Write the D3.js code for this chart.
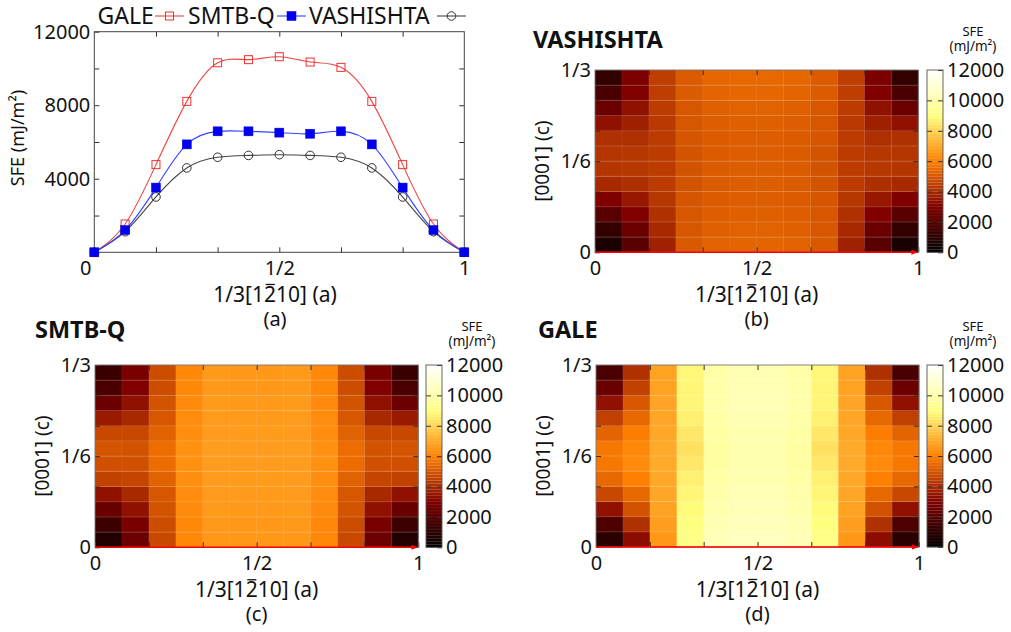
<!DOCTYPE html>
<html>
<head>
<meta charset="utf-8">
<script src="https://cdn.jsdelivr.net/npm/d3@7"></script>
<style>
  html, body { margin: 0; padding: 0; background: #fff; }
  svg text { font-family: "Noto Sans", "Open Sans", sans-serif; fill: #111; }
</style>
</head>
<body>
<svg id="chart" width="1011" height="632"></svg>
<script>
// ---------- DATA ----------
const stepsA = [0, 1, 2, 3, 4, 5, 6, 7, 8, 9, 10, 11, 12];          // position along 1/3[1-210], in 1/12 steps
const potentials = ["GALE", "SMTB-Q", "VASHISHTA"];
const galeSFE = [0, 1540, 4770, 8210, 10310, 10480, 10640, 10350, 10060, 8210, 4770, 1540, 0];
const smtbqSFE = [0, 1210, 3520, 5870, 6580, 6580, 6510, 6450, 6580, 5870, 3520, 1210, 0];
const vashSFE = [0, 1120, 3010, 4590, 5170, 5270, 5310, 5270, 5170, 4590, 3010, 1120, 0];

const sfeTicks = [0, 2000, 4000, 6000, 8000, 10000, 12000];
const sfeLabels = ["", "", "4000", "", "8000", "", "12000"];
const cbLabels = ["0", "2000", "4000", "6000", "8000", "10000", "12000"];
const aTickLabels = { 0: "0", 6: "1/2", 12: "1" };
const cTickLabels = { 0: "0", 6: "1/6", 12: "1/3" };

// 2D SFE maps: rows from c = 0 (bottom) to c = 1/3 (top), 12 columns along a
const vashMap = [
  [610, 2100, 3770, 5100, 5300, 5350, 5350, 5300, 5100, 3770, 2100, 610],
  [1200, 2500, 3950, 5050, 5250, 5300, 5300, 5250, 5050, 3950, 2500, 1200],
  [2100, 3000, 4150, 5050, 5200, 5250, 5250, 5200, 5050, 4150, 3000, 2100],
  [3000, 3550, 4300, 5000, 5150, 5200, 5200, 5150, 5000, 4300, 3550, 3000],
  [3950, 4100, 4400, 4950, 5150, 5200, 5200, 5150, 4950, 4400, 4100, 3950],
  [4250, 4300, 4400, 4950, 5150, 5200, 5200, 5150, 4950, 4400, 4300, 4250],
  [4250, 4300, 4400, 4950, 5150, 5200, 5200, 5150, 4950, 4400, 4300, 4250],
  [4150, 4100, 4400, 5000, 5150, 5200, 5200, 5150, 5000, 4400, 4100, 4150],
  [3400, 3750, 4350, 5050, 5200, 5250, 5250, 5200, 5050, 4350, 3750, 3400],
  [2500, 3400, 4400, 5050, 5250, 5300, 5300, 5250, 5050, 4400, 3400, 2500],
  [1740, 3000, 4450, 5150, 5350, 5400, 5400, 5350, 5150, 4450, 3000, 1740],
  [1200, 2950, 4450, 5150, 5400, 5450, 5450, 5400, 5150, 4450, 2950, 1200]
];
const smtbqMap = [
  [750, 2500, 4700, 6200, 6580, 6550, 6550, 6580, 6200, 4700, 2500, 750],
  [1410, 2870, 4800, 6200, 6600, 6570, 6570, 6600, 6200, 4800, 2870, 1410],
  [2450, 3400, 4950, 6250, 6620, 6600, 6600, 6620, 6250, 4950, 3400, 2450],
  [3390, 3950, 5050, 6300, 6650, 6630, 6630, 6650, 6300, 5050, 3950, 3390],
  [4520, 4600, 5300, 6350, 6680, 6660, 6660, 6680, 6350, 5300, 4600, 4520],
  [4890, 4890, 5550, 6400, 6700, 6680, 6680, 6700, 6400, 5550, 4890, 4890],
  [4990, 4940, 5550, 6400, 6700, 6680, 6680, 6700, 6400, 5550, 4940, 4990],
  [4700, 4700, 5300, 6350, 6680, 6660, 6660, 6680, 6350, 5300, 4700, 4700],
  [3620, 3950, 5050, 6300, 6650, 6630, 6630, 6650, 6300, 5050, 3950, 3620],
  [2540, 3400, 4950, 6250, 6620, 6600, 6600, 6620, 6250, 4950, 3400, 2540],
  [1740, 3000, 4800, 6200, 6600, 6570, 6570, 6600, 6200, 4800, 3000, 1740],
  [1370, 2870, 4800, 6200, 6600, 6570, 6570, 6600, 6200, 4800, 2870, 1370]
];
const galeMap = [
  [990, 3300, 6550, 9200, 10330, 10500, 10500, 10330, 9200, 6550, 3300, 990],
  [1840, 4150, 6700, 9000, 10200, 10400, 10400, 10200, 9000, 6700, 4150, 1840],
  [3400, 4900, 6800, 8900, 10100, 10300, 10300, 10100, 8900, 6800, 4900, 3400],
  [4700, 5450, 6900, 8800, 10000, 10250, 10250, 10000, 8800, 6900, 5450, 4700],
  [5450, 6000, 6950, 8650, 9900, 10150, 10150, 9900, 8650, 6950, 6000, 5450],
  [5820, 6250, 7000, 8460, 9800, 10100, 10100, 9800, 8460, 7000, 6250, 5820],
  [5820, 6200, 7000, 8300, 9800, 10100, 10100, 9800, 8300, 7000, 6200, 5820],
  [5350, 5940, 6950, 8460, 9850, 10150, 10150, 9850, 8460, 6950, 5940, 5350],
  [4500, 5450, 6900, 8650, 9950, 10200, 10200, 9950, 8650, 6900, 5450, 4500],
  [3400, 5080, 6850, 8800, 10000, 10250, 10250, 10000, 8800, 6850, 5080, 3400],
  [2500, 4520, 6800, 8800, 10000, 10250, 10250, 10000, 8800, 6800, 4520, 2500],
  [1740, 4150, 6780, 8820, 9950, 10200, 10200, 9950, 8820, 6780, 4150, 1740]
];

// ---------- HELPERS ----------
const svg = d3.select("#chart");
const SFE_MAX = 12000;
function afmhot(v) {
  const x = Math.max(0, Math.min(1, v / SFE_MAX));
  const c = t => Math.round(255 * Math.max(0, Math.min(1, t)));
  return `rgb(${c(2 * x)},${c(2 * x - 0.5)},${c(2 * x - 1)})`;
}
function styleAxis(g, size) {
  g.select(".domain").remove();
  g.selectAll(".tick line").attr("stroke", "#333").attr("stroke-width", 1);
  g.selectAll(".tick text").style("font-size", size + "px").attr("fill", "#111");
}
// "1/3[1 2̄ 1 0] (a)" with a bar drawn over the "2"
function aTitle(g, cx, by, size) {
  const t = g.append("text").attr("x", cx).attr("y", by).attr("text-anchor", "middle")
    .style("font-size", size + "px").text("1/3[1210] (a)");
  const node = t.node();
  const ext = node.getExtentOfChar(5);
  const capTop = by - size * 0.73;
  g.append("line").attr("x1", ext.x + size * 0.08).attr("x2", ext.x + ext.width - size * 0.06)
    .attr("y1", capTop - 2.2).attr("y2", capTop - 2.2)
    .attr("stroke", "#111").attr("stroke-width", 1.3);
}

// ---------- LINE CHART (a) ----------
(function lineChart() {
  const L = 94.3, R = 464.3, T = 31.7, B = 252.3;
  const x = d3.scaleLinear().domain([0, 12]).range([L, R]);
  const y = d3.scaleLinear().domain([0, SFE_MAX]).range([B, T]);
  const g = svg.append("g");

  const xb = g.append("g").attr("transform", `translate(0,${B})`)
    .call(d3.axisBottom(x).tickValues([0, 2, 4, 6, 8, 10, 12]).tickSize(-5).tickPadding(9)
      .tickFormat(d => aTickLabels[d] || ""));
  styleAxis(xb, 20);
  xb.selectAll(".tick text").filter(d => d === 0).attr("x", -9);
  const xt = g.append("g").attr("transform", `translate(0,${T})`)
    .call(d3.axisTop(x).tickValues([2, 4, 6, 8, 10]).tickSize(-5).tickFormat(""));
  styleAxis(xt, 20);
  const yl = g.append("g").attr("transform", `translate(${L},0)`)
    .call(d3.axisLeft(y).tickValues(sfeTicks).tickSize(-5).tickPadding(4)
      .tickFormat((d, i) => sfeLabels[i]));
  styleAxis(yl, 20);
  const yr = g.append("g").attr("transform", `translate(${R},0)`)
    .call(d3.axisRight(y).tickValues(sfeTicks.slice(1, 6)).tickSize(-5).tickFormat(""));
  styleAxis(yr, 20);
  g.append("rect").attr("x", L).attr("y", T).attr("width", R - L).attr("height", B - T)
    .attr("fill", "none").attr("stroke", "#444").attr("stroke-width", 1);

  const line = d3.line().x((d, i) => x(stepsA[i])).y(d => y(d)).curve(d3.curveNatural);
  const series = [
    { name: potentials[0], vals: galeSFE, color: "#ee4444", mark: "osq" },
    { name: potentials[2], vals: vashSFE, color: "#444444", mark: "oc" },
    { name: potentials[1], vals: smtbqSFE, color: "#3344ff", mark: "fsq" }
  ];
  series.forEach(s => {
    g.append("path").attr("d", line(s.vals)).attr("fill", "none")
      .attr("stroke", s.color).attr("stroke-width", 1.1);
    const m = g.append("g");
    s.vals.forEach((v, i) => drawMark(m, s.mark, x(stepsA[i]), y(v)));
  });

  function drawMark(sel, kind, cx, cy) {
    if (kind === "osq") sel.append("rect").attr("x", cx - 4).attr("y", cy - 4).attr("width", 8).attr("height", 8)
      .attr("fill", "none").attr("stroke", "#e33").attr("stroke-width", 1);
    else if (kind === "fsq") sel.append("rect").attr("x", cx - 4.5).attr("y", cy - 4.5).attr("width", 9).attr("height", 9)
      .attr("fill", "#0000ee").attr("stroke", "#0000dd").attr("stroke-width", 0.5);
    else sel.append("circle").attr("cx", cx).attr("cy", cy).attr("r", 4.3)
      .attr("fill", "none").attr("stroke", "#333").attr("stroke-width", 1);
  }

  const leg = [
    { name: potentials[0], tx: 97.5, x1: 155, x2: 184, color: "#ee4444", mark: "osq" },
    { name: potentials[1], tx: 188, x1: 277, x2: 306, color: "#3344ff", mark: "fsq" },
    { name: potentials[2], tx: 309, x1: 437, x2: 466, color: "#444444", mark: "oc" }
  ];
  leg.forEach(l => {
    g.append("text").attr("x", l.tx).attr("y", 24).style("font-size", "23px").text(l.name);
    g.append("line").attr("x1", l.x1).attr("x2", l.x2).attr("y1", 16).attr("y2", 16)
      .attr("stroke", l.color).attr("stroke-width", 1.1);
    drawMark(g, l.mark, (l.x1 + l.x2) / 2, 16);
  });

  g.append("text").attr("transform", "translate(24,138) rotate(-90)").attr("text-anchor", "middle")
    .style("font-size", "18px").text("SFE (mJ/m²)");
  aTitle(g, 275, 302, 21);
  g.append("text").attr("x", 275).attr("y", 326).attr("text-anchor", "middle")
    .style("font-size", "20px").text("(a)");
})();

// ---------- HEATMAP PANELS ----------
function heatPanel(p) {
  const g = svg.append("g");
  const x = d3.scaleLinear().domain([0, 12]).range([p.x0, p.x0 + p.w]);
  const y = d3.scaleLinear().domain([0, 12]).range([p.y0 + p.h, p.y0]);
  const cells = [];
  p.data.forEach((row, r) => row.forEach((v, c) => cells.push({ r, c, v })));
  g.selectAll("rect.cell").data(cells).join("rect").attr("class", "cell")
    .attr("x", d => x(d.c)).attr("y", d => y(d.r + 1))
    .attr("width", x(1) - x(0) + 0.3).attr("height", y(0) - y(1) + 0.3)
    .attr("fill", d => afmhot(d.v));
  g.selectAll("line.hgrid").data(d3.range(1, 12)).join("line")
    .attr("x1", p.x0).attr("x2", p.x0 + p.w).attr("y1", d => y(d)).attr("y2", d => y(d))
    .attr("stroke", "#fff").attr("stroke-opacity", 0.22).attr("stroke-width", 0.8);
  g.selectAll("line.vgrid").data(d3.range(1, 12)).join("line")
    .attr("y1", p.y0).attr("y2", p.y0 + p.h).attr("x1", d => x(d)).attr("x2", d => x(d))
    .attr("stroke", "#fff").attr("stroke-opacity", 0.1).attr("stroke-width", 0.8);

  const xb = g.append("g").attr("transform", `translate(0,${p.y0 + p.h})`)
    .call(d3.axisBottom(x).tickValues([0, 2, 4, 6, 8, 10, 12]).tickSize(-5).tickPadding(9)
      .tickFormat(d => aTickLabels[d] || ""));
  styleAxis(xb, 20);
  xb.selectAll(".tick line").attr("stroke", "#3a2a20");
  const xt = g.append("g").attr("transform", `translate(0,${p.y0})`)
    .call(d3.axisTop(x).tickValues([2, 4, 6, 8, 10]).tickSize(-5).tickFormat(""));
  styleAxis(xt, 20);
  xt.selectAll(".tick line").attr("stroke", "#3a2a20");
  const yl = g.append("g").attr("transform", `translate(${p.x0},0)`)
    .call(d3.axisLeft(y).tickValues([0, 2, 4, 6, 8, 10, 12]).tickSize(-5).tickPadding(4)
      .tickFormat(d => cTickLabels[d] || ""));
  styleAxis(yl, 20);
  yl.selectAll(".tick line").attr("stroke", "#3a2a20");
  const yr = g.append("g").attr("transform", `translate(${p.x0 + p.w},0)`)
    .call(d3.axisRight(y).tickValues([2, 4, 6, 8, 10]).tickSize(-5).tickFormat(""));
  styleAxis(yr, 20);
  yr.selectAll(".tick line").attr("stroke", "#3a2a20");

  g.append("rect").attr("x", p.x0).attr("y", p.y0).attr("width", p.w).attr("height", p.h)
    .attr("fill", "none").attr("stroke", "#777").attr("stroke-width", 0.9);
  const ay = y(0);
  g.append("line").attr("x1", x(0)).attr("x2", x(12) - 4).attr("y1", ay).attr("y2", ay)
    .attr("stroke", "#f00").attr("stroke-width", 1.6);
  g.append("path").attr("d", `M${x(12) - 7},${ay - 2.5} L${x(12)},${ay} L${x(12) - 7},${ay + 2.5} Z`)
    .attr("fill", "#f00");

  // colorbar
  const cb = d3.scaleLinear().domain([0, SFE_MAX]).range([p.y0 + p.h, p.y0]);
  const bands = d3.range(0, SFE_MAX, SFE_MAX / 60);
  g.selectAll("rect.band").data(bands).join("rect").attr("class", "band")
    .attr("x", p.cbx).attr("width", 16)
    .attr("y", d => cb(d + SFE_MAX / 60)).attr("height", cb(0) - cb(SFE_MAX / 60) + 0.2)
    .attr("fill", d => afmhot(d + SFE_MAX / 120));
  g.selectAll("line.bandsep").data(bands.slice(1)).join("line")
    .attr("x1", p.cbx).attr("x2", p.cbx + 16).attr("y1", d => cb(d)).attr("y2", d => cb(d))
    .attr("stroke", "#fff").attr("stroke-opacity", 0.12).attr("stroke-width", 0.6);
  const cbr = g.append("g").attr("transform", `translate(${p.cbx + 16},0)`)
    .call(d3.axisRight(cb).tickValues(sfeTicks).tickSize(-5).tickPadding(4)
      .tickFormat((d, i) => cbLabels[i]));
  styleAxis(cbr, 20);
  const cbl = g.append("g").attr("transform", `translate(${p.cbx},0)`)
    .call(d3.axisLeft(cb).tickValues(sfeTicks.slice(1, 6)).tickSize(-5).tickFormat(""));
  styleAxis(cbl, 20);
  g.append("rect").attr("x", p.cbx).attr("y", p.y0).attr("width", 16).attr("height", p.h)
    .attr("fill", "none").attr("stroke", "#555").attr("stroke-width", 0.9);
  g.append("text").attr("x", p.cbx + 46).attr("y", p.y0 - 34).attr("text-anchor", "middle")
    .style("font-size", "13px").text("SFE");
  g.append("text").attr("x", p.cbx + 46).attr("y", p.y0 - 19).attr("text-anchor", "middle")
    .style("font-size", "13.5px").text("(mJ/m²)");

  g.append("text").attr("x", p.tx).attr("y", p.ty).style("font-size", "23.5px")
    .style("font-weight", "bold").text(p.title);
  g.append("text").attr("transform", `translate(${p.x0 - 46},${p.y0 + p.h / 2}) rotate(-90)`)
    .attr("text-anchor", "middle").style("font-size", "19px").text("[0001] (c)");
  aTitle(g, p.x0 + p.w / 2, p.y0 + p.h + 50, 21);
  g.append("text").attr("x", p.x0 + p.w / 2).attr("y", p.y0 + p.h + 74).attr("text-anchor", "middle")
    .style("font-size", "20px").text(p.label);
}

heatPanel({ x0: 595, y0: 70, w: 323.3, h: 182.3, cbx: 927, data: vashMap,
  title: potentials[2], tx: 533, ty: 48, label: "(b)" });
heatPanel({ x0: 95, y0: 365, w: 323.3, h: 182.3, cbx: 426, data: smtbqMap,
  title: potentials[1], tx: 35, ty: 338, label: "(c)" });
heatPanel({ x0: 596, y0: 365, w: 323, h: 182, cbx: 927, data: galeMap,
  title: potentials[0], tx: 538, ty: 338, label: "(d)" });
</script>
</body>
</html>
